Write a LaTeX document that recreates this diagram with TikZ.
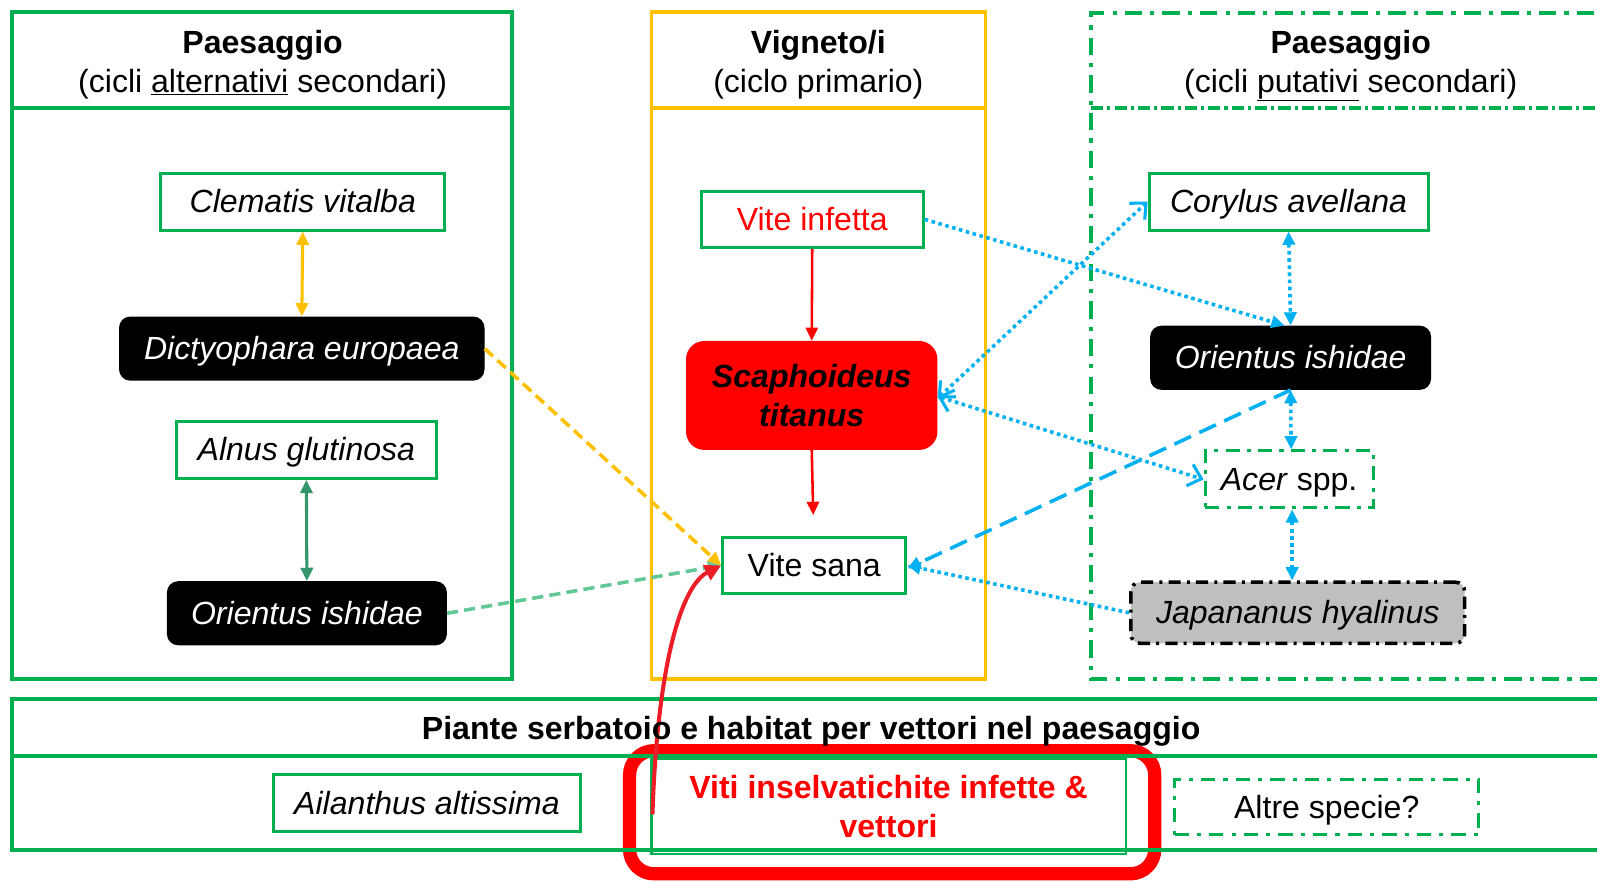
\documentclass[tikz,border=0pt]{standalone}
\usepackage{fontspec}
\setmainfont{Liberation Sans}
\usetikzlibrary{arrows.meta}
\definecolor{grn}{RGB}{0,176,80}
\definecolor{org}{RGB}{255,192,0}
\definecolor{cyb}{RGB}{0,176,240}
\definecolor{rd}{RGB}{255,0,0}
\definecolor{tealg}{RGB}{52,150,105}
\definecolor{lgrn}{RGB}{100,200,150}
\definecolor{gry}{RGB}{191,191,191}
\definecolor{redc}{RGB}{235,30,40}
\tikzset{
  trih/.tip={Triangle[length=13pt,width=12pt]},
  barbh/.tip={Straight Barb[length=12pt,width=22pt,line width=3pt]},
  bigh/.tip={Triangle[length=16pt,width=16pt]}
}
\begin{document}
\begin{tikzpicture}[x=1pt,y=-1pt,
  every node/.style={font=\fontsize{31.5}{39}\selectfont, inner sep=0pt, align=center},
  oneline/.style={text height=21.8pt, text depth=0pt},
  gbox/.style={draw=grn, line width=3pt, fill=white, oneline},
  blk/.style={fill=black, text=white, rounded corners=11pt, oneline},
  dashdot/.style={dash pattern=on 17pt off 8pt on 4pt off 8pt},
  panel/.style={line width=3.5pt},
  bdot/.style={draw=cyb, line width=3.5pt, dash pattern=on 3.5pt off 3.5pt}
]
\useasboundingbox (0,0) rectangle (1569,867.5);
\clip (0,0) rectangle (1569,867.5);

% panels
\draw[panel, draw=grn] (12,12) rectangle (503,667);
\draw[panel, draw=grn] (12,106) -- (503,106);
\draw[panel, draw=org] (640,12) rectangle (968,667);
\draw[panel, draw=org] (640,106) -- (968,106);
\draw[panel, draw=grn, dashdot] (1640,13) -- (1072,13) -- (1072,667) -- (1640,667);
\draw[panel, draw=grn, dash pattern=on 12pt off 4pt on 3pt off 4pt] (1072,106) -- (1640,106);

\node[oneline] (t1a) at (258,42) {\bfseries Paesaggio};
\node[oneline] (t1b) at (258,80) {(cicli \underline{alternativi} secondari)};
\node[oneline] (t2a) at (804,42) {\bfseries Vigneto/i};
\node[oneline] (t2b) at (804,80) {(ciclo primario)};
\node[oneline] (t3a) at (1327,42) {\bfseries Paesaggio};
\node[oneline] (t3b) at (1327,80) {(cicli \underline{putativi} secondari)};

% bottom frame
\draw[panel, draw=grn] (1640,687) -- (12,687) -- (12,835) -- (1640,835);
\draw[panel, draw=grn] (12,743) -- (1640,743);

% red highlight box
\node[draw=rd, line width=13pt, rounded corners=24pt, minimum width=516pt, minimum height=121pt] (hl) at (876.5,798) {};
\draw[panel, draw=grn] (560,743) -- (1200,743);
\draw[panel, draw=grn] (560,835) -- (1200,835);

% bottom nodes
\node[gbox, minimum width=301pt, minimum height=56pt] (ail) at (419.5,789) {\itshape Ailanthus altissima};
\node[draw=grn, line width=2.2pt, minimum width=466pt, minimum height=93pt, text=rd, font=\fontsize{31.5}{38}\selectfont\bfseries] (viti) at (873,792.5) {Viti inselvatichite infette \&\\vettori};
\node[draw=grn, line width=3pt, oneline, dash pattern=on 14pt off 8pt on 4pt off 8pt, minimum width=299pt, minimum height=54pt] (altre) at (1303.5,793) {Altre specie?};

% left nodes
\node[gbox, minimum width=279pt, minimum height=56pt] (clem) at (297.5,198) {\itshape Clematis vitalba};
\node[blk, minimum width=359pt, minimum height=63pt] (dict) at (296.5,342.5) {\itshape Dictyophara europaea};
\node[gbox, minimum width=256pt, minimum height=56pt] (alnus) at (301,442) {\itshape Alnus glutinosa};
\node[blk, minimum width=275pt, minimum height=63pt] (ori1) at (301.5,602.5) {\itshape Orientus ishidae};

% middle nodes
\node[gbox, minimum width=218pt, minimum height=55pt, text=rd] (vinf) at (798,215.5) {Vite infetta};
\node[fill=rd, rounded corners=18pt, minimum width=247pt, minimum height=107pt, font=\fontsize{31.5}{39}\selectfont\bfseries\itshape] (scaph) at (797.5,388.5) {Scaphoideus\\titanus};
\node[gbox, minimum width=180pt, minimum height=55pt] (vs) at (800,555.5) {Vite sana};
\coordinate (stEnd) at (799,506);

% right nodes
\node[gbox, minimum width=274pt, minimum height=56pt] (cory) at (1266,198) {\itshape Corylus avellana};
\node[blk, minimum width=276pt, minimum height=63pt] (ori2) at (1268,351.5) {\itshape Orientus ishidae};
\node[fill=white, draw=grn, line width=3pt, oneline, dash pattern=on 14pt off 7pt on 4pt off 7pt, minimum width=165pt, minimum height=56pt] (acer) at (1266.5,471) {\textit{Acer} spp.};
\node[fill=gry, draw=black, line width=3.5pt, oneline, rounded corners=9pt, dash pattern=on 12pt off 6pt on 3pt off 6pt, minimum width=328pt, minimum height=60pt] (jap) at (1275,602) {\itshape Japananus hyalinus};

% left connectors
\draw[org, line width=3pt, trih-trih] (clem.south) -- (dict.north);
\draw[tealg, line width=3pt, trih-trih] (alnus.south) -- (ori1.north);
\draw[org, line width=3.5pt, dash pattern=on 11pt off 6pt, -trih] (dict.east) -- (vs.west);
\draw[lgrn, line width=3.5pt, dash pattern=on 11pt off 6pt, -trih] (ori1.east) -- (vs.west);

% middle connectors
\draw[rd, line width=2.5pt, -trih] (vinf.south) -- (scaph.north);
\draw[rd, line width=2.5pt, -trih] (scaph.south) -- (stEnd);
\coordinate (cvStart) at (641,800);
\draw[redc, line width=4pt, -bigh] (cvStart) .. controls (646,650) and (670,575) .. (vs.west);

\node[oneline] (piante) at (797,716) {\bfseries Piante serbatoio e habitat per vettori nel paesaggio};

% right connectors
\draw[bdot, trih-trih] (cory.south) -- (ori2.north);
\draw[bdot, trih-trih] (ori2.south) -- ([xshift=2pt]acer.north);
\draw[bdot, trih-trih] ([xshift=3pt]acer.south) -- ([xshift=-5.5pt]jap.north);
\draw[bdot, -trih] (vinf.east) -- ([xshift=-6pt]ori2.north);
\draw[bdot, barbh-barbh] ([yshift=-3pt]scaph.east) -- (cory.west);
\draw[bdot, barbh-barbh] ([yshift=-1pt]scaph.east) -- (acer.west);
\draw[bdot, -trih] (jap.west) -- (vs.east);
\draw[cyb, line width=3.5pt, dash pattern=on 18pt off 9pt, -trih] (ori2.south) -- ([yshift=-3pt]vs.east);
\end{tikzpicture}
\end{document}
